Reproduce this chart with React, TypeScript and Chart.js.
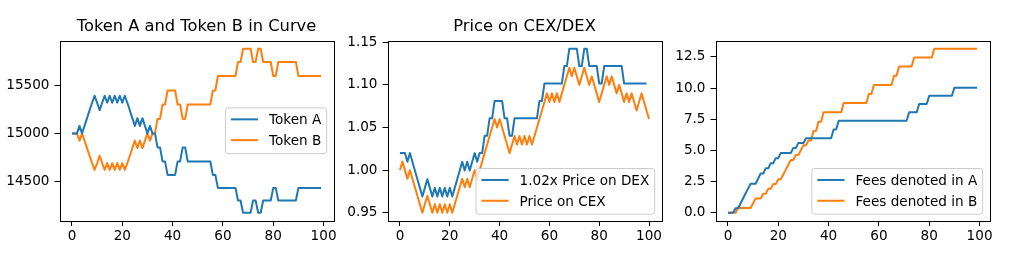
import React, { useEffect, useRef } from "react";
import { Chart, registerables } from "chart.js";

Chart.register(...registerables);

// ---------------- data ----------------
const cexPrice = [
  1.00, 1.01, 1.00, 0.99, 1.00, 0.99, 0.98, 0.97, 0.96, 0.95,
  0.96, 0.97, 0.96, 0.95, 0.96, 0.95, 0.96, 0.95, 0.96, 0.95,
  0.96, 0.95, 0.96, 0.97, 0.98, 0.99, 0.98, 0.99, 0.98, 0.99,
  1.00, 0.99, 1.00, 1.01, 1.02, 1.03, 1.04, 1.05, 1.06, 1.05,
  1.06, 1.05, 1.04, 1.03, 1.02, 1.03, 1.04, 1.03, 1.04, 1.03,
  1.04, 1.03, 1.04, 1.03, 1.04, 1.05, 1.06, 1.07, 1.08, 1.09,
  1.08, 1.09, 1.08, 1.09, 1.08, 1.09, 1.10, 1.11, 1.12, 1.11,
  1.12, 1.11, 1.10, 1.11, 1.12, 1.11, 1.10, 1.11, 1.10, 1.09,
  1.08, 1.09, 1.10, 1.11, 1.10, 1.11, 1.10, 1.09, 1.10, 1.09,
  1.08, 1.09, 1.08, 1.09, 1.08, 1.07, 1.08, 1.09, 1.08, 1.07,
  1.06,
];

const dexPrice = [
  1.00, 1.00, 1.00, 0.99, 1.00, 0.99, 0.98, 0.97, 0.96, 0.95,
  0.96, 0.97, 0.96, 0.95, 0.96, 0.95, 0.96, 0.95, 0.96, 0.95,
  0.96, 0.95, 0.96, 0.97, 0.98, 0.99, 0.98, 0.99, 0.98, 0.99,
  1.00, 0.99, 1.00, 1.00, 1.02, 1.02, 1.04, 1.04, 1.06, 1.06,
  1.06, 1.06, 1.04, 1.04, 1.02, 1.02, 1.04, 1.04, 1.04, 1.04,
  1.04, 1.04, 1.04, 1.04, 1.04, 1.04, 1.06, 1.06, 1.08, 1.08,
  1.08, 1.08, 1.08, 1.08, 1.08, 1.08, 1.10, 1.10, 1.12, 1.12,
  1.12, 1.12, 1.10, 1.10, 1.12, 1.12, 1.10, 1.10, 1.10, 1.10,
  1.08, 1.08, 1.10, 1.10, 1.10, 1.10, 1.10, 1.10, 1.10, 1.10,
  1.08, 1.08, 1.08, 1.08, 1.08, 1.08, 1.08, 1.08, 1.08, 1.08,
];
const dexMultiplier = 1.02;

const tokenA = [
  15000, 15000, 15000, 15078, 15000, 15078, 15158, 15240, 15318, 15390,
  15318, 15240, 15318, 15390, 15318, 15390, 15318, 15390, 15318, 15390,
  15318, 15390, 15318, 15240, 15158, 15078, 15158, 15078, 15158, 15078,
  15000, 15078, 15000, 15000, 14855, 14855, 14710, 14710, 14570, 14570,
  14570, 14570, 14710, 14710, 14855, 14855, 14710, 14710, 14710, 14710,
  14710, 14710, 14710, 14710, 14710, 14710, 14570, 14570, 14435, 14435,
  14435, 14435, 14435, 14435, 14435, 14435, 14305, 14305, 14177, 14177,
  14177, 14177, 14305, 14305, 14177, 14177, 14305, 14305, 14305, 14305,
  14435, 14435, 14305, 14305, 14305, 14305, 14305, 14305, 14305, 14305,
  14435, 14435, 14435, 14435, 14435, 14435, 14435, 14435, 14435, 14435,
];

const tokenB = [
  15000, 15000, 15000, 14925, 15000, 14925, 14848, 14768, 14692, 14622,
  14692, 14768, 14692, 14622, 14692, 14622, 14692, 14622, 14692, 14622,
  14692, 14622, 14692, 14768, 14848, 14925, 14848, 14925, 14848, 14925,
  15000, 14925, 15000, 15000, 15150, 15150, 15300, 15300, 15445, 15445,
  15445, 15445, 15300, 15300, 15150, 15150, 15300, 15300, 15300, 15300,
  15300, 15300, 15300, 15300, 15300, 15300, 15445, 15445, 15595, 15595,
  15595, 15595, 15595, 15595, 15595, 15595, 15740, 15740, 15878, 15878,
  15878, 15878, 15740, 15740, 15878, 15878, 15740, 15740, 15740, 15740,
  15595, 15595, 15740, 15740, 15740, 15740, 15740, 15740, 15740, 15740,
  15595, 15595, 15595, 15595, 15595, 15595, 15595, 15595, 15595, 15595,
];

const feesA = [
  0, 0, 0, 0.37, 0.37, 0.75, 1.15, 1.55, 1.94, 2.33,
  2.33, 2.33, 2.74, 3.15, 3.15, 3.56, 3.56, 3.97, 3.97, 4.38,
  4.38, 4.80, 4.80, 4.80, 4.80, 4.80, 5.20, 5.20, 5.60, 5.60,
  5.60, 5.98, 5.98, 5.98, 5.98, 5.98, 5.98, 5.98, 5.98, 5.98,
  5.98, 5.98, 6.68, 6.68, 7.37, 7.37, 7.37, 7.37, 7.37, 7.37,
  7.37, 7.37, 7.37, 7.37, 7.37, 7.37, 7.37, 7.37, 7.37, 7.37,
  7.37, 7.37, 7.37, 7.37, 7.37, 7.37, 7.37, 7.37, 7.37, 7.37,
  7.37, 7.37, 8.05, 8.05, 8.05, 8.05, 8.72, 8.72, 8.72, 8.72,
  9.38, 9.38, 9.38, 9.38, 9.38, 9.38, 9.38, 9.38, 9.38, 9.38,
  10.03, 10.03, 10.03, 10.03, 10.03, 10.03, 10.03, 10.03, 10.03, 10.03,
];

const feesB = [
  0, 0, 0, 0, 0.38, 0.38, 0.38, 0.38, 0.38, 0.38,
  0.77, 1.15, 1.15, 1.15, 1.53, 1.53, 1.92, 1.92, 2.30, 2.30,
  2.69, 2.69, 3.07, 3.46, 3.85, 4.24, 4.24, 4.63, 4.63, 5.02,
  5.41, 5.41, 5.80, 5.80, 6.55, 6.55, 7.30, 7.30, 8.05, 8.05,
  8.05, 8.05, 8.05, 8.05, 8.05, 8.05, 8.80, 8.80, 8.80, 8.80,
  8.80, 8.80, 8.80, 8.80, 8.80, 8.80, 9.52, 9.52, 10.25, 10.25,
  10.25, 10.25, 10.25, 10.25, 10.25, 10.25, 10.98, 10.98, 11.72, 11.72,
  11.72, 11.72, 11.72, 11.72, 12.45, 12.45, 12.45, 12.45, 12.45, 12.45,
  12.45, 12.45, 13.15, 13.15, 13.15, 13.15, 13.15, 13.15, 13.15, 13.15,
  13.15, 13.15, 13.15, 13.15, 13.15, 13.15, 13.15, 13.15, 13.15, 13.15,
];

const xTickValues = [0, 20, 40, 60, 80, 100];
const yTicksTokens = [14500, 15000, 15500];
const yTicksPrice = [0.95, 1.0, 1.05, 1.1, 1.15];
const yTicksFees = [0, 2.5, 5.0, 7.5, 10.0, 12.5];

const titleTokens = "Token A and Token B in Curve";
const titlePrice = "Price on CEX/DEX";
const labelsTokens = ["Token A", "Token B"];
const labelsPrice = ["1.02x Price on DEX", "Price on CEX"];
const labelsFees = ["Fees denoted in A", "Fees denoted in B"];

// ---------------- styling / layout ----------------
const BLUE = "#1f77b4";
const ORANGE = "#ff7f0e";
const FONT = '"DejaVu Sans", "Liberation Sans", sans-serif';
const FS = 13.6;
const TITLE_FS = 16.3;
const W = 1018;
const H = 262;
const AX_TOP = 40.5;
const AX_BOTTOM = 221;
const AX_W = 274;
const AX_LEFTS = [59.5, 387.5, 715.5];
const Y_AXIS_W = 55;
const X_AXIS_H = 30;
const TITLE_LH = TITLE_FS * 1.2;
const TITLE_PAD_BOTTOM = 3.5;

const toPts = (arr: number[], scale = 1) => arr.map((v, i) => ({ x: i, y: v * scale }));

const margin = (arrs: number[][]) => {
  let lo = Infinity, hi = -Infinity;
  arrs.forEach((a) => a.forEach((v) => { lo = Math.min(lo, v); hi = Math.max(hi, v); }));
  const m = (hi - lo) * 0.05;
  return { min: lo - m, max: hi + m };
};

const framePlugin = {
  id: "mplFrame",
  afterDatasetsDraw(chart: any) {
    const { ctx, chartArea: a } = chart;
    ctx.save();
    ctx.strokeStyle = "#000";
    ctx.lineWidth = 1;
    ctx.strokeRect(Math.round(a.left) + 0.5, Math.round(a.top) + 0.5,
      Math.round(a.right) - Math.round(a.left), Math.round(a.bottom) - Math.round(a.top));
    ctx.restore();
  },
};

const legendPlugin = {
  id: "mplLegend",
  afterDraw(chart: any, _args: any, opts: any) {
    if (!opts || !opts.items) return;
    const { ctx, chartArea: a } = chart;
    const items = opts.items as { label: string; color: string }[];
    ctx.save();
    ctx.font = `${FS}px ${FONT}`;
    const pad = 0.4 * FS;
    const handle = 2.0 * FS;
    const gap = 0.8 * FS;
    const rowH = 14;
    const spacing = 0.5 * FS;
    const axPad = 0.5 * FS;
    const tw = Math.max(...items.map((it) => ctx.measureText(it.label).width));
    const w = pad * 2 + handle + gap + tw;
    const h = pad * 2 + rowH * items.length + spacing * (items.length - 1);
    const x = a.right - axPad - w;
    const y = opts.loc === "center right" ? (a.top + a.bottom) / 2 - h / 2 : a.bottom - axPad - h;
    const r = 2.5;
    ctx.beginPath();
    ctx.moveTo(x + r, y);
    ctx.lineTo(x + w - r, y);
    ctx.arcTo(x + w, y, x + w, y + r, r);
    ctx.lineTo(x + w, y + h - r);
    ctx.arcTo(x + w, y + h, x + w - r, y + h, r);
    ctx.lineTo(x + r, y + h);
    ctx.arcTo(x, y + h, x, y + h - r, r);
    ctx.lineTo(x, y + r);
    ctx.arcTo(x, y, x + r, y, r);
    ctx.closePath();
    ctx.fillStyle = "rgba(255,255,255,0.8)";
    ctx.fill();
    ctx.strokeStyle = "#cccccc";
    ctx.lineWidth = 1;
    ctx.stroke();
    items.forEach((it, k) => {
      const cy = y + pad + rowH / 2 - 1 + k * (rowH + spacing);
      ctx.beginPath();
      ctx.strokeStyle = it.color;
      ctx.lineWidth = 2;
      ctx.moveTo(x + pad, cy);
      ctx.lineTo(x + pad + handle, cy);
      ctx.stroke();
      ctx.fillStyle = "#000";
      ctx.textBaseline = "alphabetic";
      ctx.textAlign = "left";
      ctx.fillText(it.label, x + pad + handle + gap, cy + 5);
    });
    ctx.restore();
  },
};

type Spec = {
  idx: number;
  series: { data: { x: number; y: number }[]; color: string }[];
  labels: string[];
  xMax: number;
  yRange: { min: number; max: number };
  yTicks: number[];
  yFmt: (v: number) => string;
  title?: string;
  loc: string;
};

function buildConfig(s: Spec): any {
  const left = AX_LEFTS[s.idx];
  const right = left + AX_W;
  const xm = s.xMax * 0.05;
  const topPad = s.title ? AX_TOP - TITLE_LH - TITLE_PAD_BOTTOM : AX_TOP;
  const tickFont = { family: FONT, size: FS };
  const grid = {
    display: true,
    drawOnChartArea: false,
    drawTicks: true,
    tickLength: 5,
    color: "#000",
    lineWidth: 1,
  };
  return {
    type: "line",
    data: {
      datasets: s.series.map((se, i) => ({
        label: s.labels[i],
        data: se.data,
        borderColor: se.color,
        backgroundColor: se.color,
        borderWidth: 2,
        pointRadius: 0,
        pointHoverRadius: 0,
        tension: 0,
        fill: false,
        borderJoinStyle: "round",
        borderCapStyle: "butt",
      })),
    },
    options: {
      animation: false,
      responsive: false,
      devicePixelRatio: 1,
      events: [],
      layout: {
        padding: {
          left: left - Y_AXIS_W,
          right: W - right,
          top: topPad,
          bottom: H - AX_BOTTOM - X_AXIS_H,
        },
      },
      plugins: {
        legend: { display: false },
        tooltip: { enabled: false },
        title: s.title
          ? {
              display: true,
              text: s.title,
              fullSize: false,
              color: "#000",
              font: { family: FONT, size: TITLE_FS, weight: "normal", lineHeight: 1.2 },
              padding: { top: 0, bottom: TITLE_PAD_BOTTOM },
            }
          : { display: false },
        mplLegend: {
          loc: s.loc,
          items: s.labels.map((l, i) => ({ label: l, color: s.series[i].color })),
        },
      },
      scales: {
        x: {
          type: "linear",
          min: -xm,
          max: s.xMax + xm,
          afterBuildTicks: (sc: any) => {
            sc.ticks = xTickValues.map((v) => ({ value: v }));
          },
          afterFit: (sc: any) => {
            sc.height = X_AXIS_H;
          },
          ticks: {
            font: tickFont,
            color: "#000",
            padding: 2,
            maxRotation: 0,
            autoSkip: false,
            callback: (v: number) => String(v),
          },
          grid,
          border: { display: false },
        },
        y: {
          type: "linear",
          min: s.yRange.min,
          max: s.yRange.max,
          afterBuildTicks: (sc: any) => {
            sc.ticks = s.yTicks.map((v) => ({ value: v }));
          },
          afterFit: (sc: any) => {
            sc.width = Y_AXIS_W;
          },
          ticks: {
            font: tickFont,
            color: "#000",
            padding: 5,
            autoSkip: false,
            callback: (v: number) => s.yFmt(v),
          },
          grid,
          border: { display: false },
        },
      },
    },
    plugins: [framePlugin, legendPlugin],
  };
}

function SubChart({ spec }: { spec: Spec }) {
  const ref = useRef<HTMLCanvasElement | null>(null);
  useEffect(() => {
    if (!ref.current) return;
    const chart = new Chart(ref.current, buildConfig(spec));
    return () => chart.destroy();
  }, []);
  return (
    <canvas
      ref={ref}
      width={W}
      height={H}
      style={{ position: "absolute", left: 0, top: 0, width: W, height: H }}
    />
  );
}

export default function App() {
  const dexScaled = dexPrice.map((v) => v * dexMultiplier);
  const specs: Spec[] = [
    {
      idx: 0,
      series: [
        { data: toPts(tokenA), color: BLUE },
        { data: toPts(tokenB), color: ORANGE },
      ],
      labels: labelsTokens,
      xMax: tokenA.length - 1,
      yRange: margin([tokenA, tokenB]),
      yTicks: yTicksTokens,
      yFmt: (v) => String(Math.round(v)),
      title: titleTokens,
      loc: "center right",
    },
    {
      idx: 1,
      series: [
        { data: toPts(dexPrice, dexMultiplier), color: BLUE },
        { data: toPts(cexPrice), color: ORANGE },
      ],
      labels: labelsPrice,
      xMax: cexPrice.length - 1,
      yRange: margin([dexScaled, cexPrice]),
      yTicks: yTicksPrice,
      yFmt: (v) => v.toFixed(2),
      title: titlePrice,
      loc: "lower right",
    },
    {
      idx: 2,
      series: [
        { data: toPts(feesA), color: BLUE },
        { data: toPts(feesB), color: ORANGE },
      ],
      labels: labelsFees,
      xMax: feesA.length - 1,
      yRange: margin([feesA, feesB]),
      yTicks: yTicksFees,
      yFmt: (v) => v.toFixed(1),
      loc: "lower right",
    },
  ];
  return (
    <div style={{ position: "fixed", left: 0, top: 0, width: W, height: H, background: "#fff" }}>
      {specs.map((s) => (
        <SubChart key={s.idx} spec={s} />
      ))}
    </div>
  );
}
